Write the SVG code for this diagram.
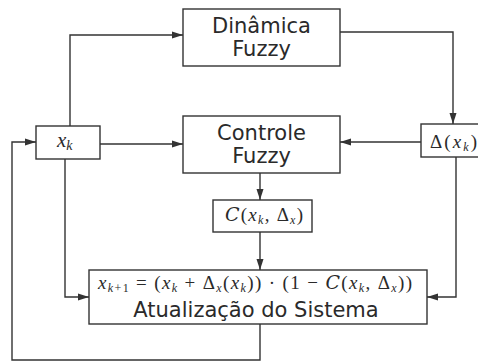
<svg xmlns="http://www.w3.org/2000/svg" width="478" height="361" viewBox="0 0 478 361">
<style>
.box{fill:#fff;stroke:#333;stroke-width:1.4}
.t{font-family:"DejaVu Sans","Liberation Sans",sans-serif;font-size:21px;fill:#2a2a2a;text-anchor:middle}
.m{font-family:"Liberation Serif","DejaVu Serif",serif;font-size:19px;fill:#2a2a2a}
.i{font-style:italic}
.sub{font-size:12px;baseline-shift:-3px}
.cal{font-family:"DejaVu Serif",serif;font-style:italic}
.c{fill:none;stroke:#333;stroke-width:1.4}
</style>
<defs>
<marker id="a" markerUnits="userSpaceOnUse" markerWidth="11" markerHeight="8" refX="11" refY="4" orient="auto">
<path d="M0,0.5 L11,4 L0,7.5 z" fill="#333"/>
</marker>
</defs>
<rect width="478" height="361" fill="#fff"/>
<g id="connectors">
<path class="c" d="M70,126 V35 H183" marker-end="url(#a)"/>
<path class="c" d="M340,32 H453 V124" marker-end="url(#a)"/>
<path class="c" d="M100,144 H183" marker-end="url(#a)"/>
<path class="c" d="M421,142 H340" marker-end="url(#a)"/>
<path class="c" d="M260,173 V200" marker-end="url(#a)"/>
<path class="c" d="M260,232 V270" marker-end="url(#a)"/>
<path class="c" d="M65,159 V297 H89" marker-end="url(#a)"/>
<path class="c" d="M456,157 V297 H427" marker-end="url(#a)"/>
<path class="c" d="M260,324 V360 H12 V142 H36" marker-end="url(#a)"/>
</g>
<g id="dinamica">
<rect class="box" x="183" y="9" width="157" height="57"/>
<text class="t" x="261.5" y="33">Dinâmica</text>
<text class="t" x="261.5" y="56">Fuzzy</text>
</g>
<g id="controle">
<rect class="box" x="183" y="116" width="157" height="57"/>
<text class="t" x="261.5" y="140">Controle</text>
<text class="t" x="261.5" y="163">Fuzzy</text>
</g>
<g id="xk">
<rect class="box" x="36" y="126" width="64" height="33"/>
<text class="m" x="57" y="147" style="font-size:21px"><tspan class="i">x</tspan><tspan class="i" style="font-size:14px;baseline-shift:-3px">k</tspan></text>
</g>
<g id="delta">
<rect class="box" x="421" y="124" width="64" height="33"/>
<text class="m" x="430" y="148" textLength="47" lengthAdjust="spacing">Δ(<tspan class="i">x</tspan><tspan class="sub i">k</tspan>)</text>
</g>
<g id="controle-saida">
<rect class="box" x="213" y="200" width="99" height="32"/>
<text class="m" x="225" y="221" textLength="78" lengthAdjust="spacing"><tspan class="cal">C</tspan>(<tspan class="i">x</tspan><tspan class="sub i">k</tspan>, Δ<tspan class="sub i">x</tspan>)</text>
</g>
<g id="atualizacao">
<rect class="box" x="89" y="270" width="338" height="54"/>
<text class="m" x="98" y="289" textLength="314" lengthAdjust="spacing"><tspan class="i">x</tspan><tspan class="sub"><tspan class="i">k</tspan>+1</tspan> = (<tspan class="i">x</tspan><tspan class="sub i">k</tspan> + Δ<tspan class="sub i">x</tspan>(<tspan class="i">x</tspan><tspan class="sub i">k</tspan>)) · (1 − <tspan class="cal">C</tspan>(<tspan class="i">x</tspan><tspan class="sub i">k</tspan>, Δ<tspan class="sub i">x</tspan>))</text>
<text class="t" x="256" y="317">Atualização do Sistema</text>
</g>
</svg>
